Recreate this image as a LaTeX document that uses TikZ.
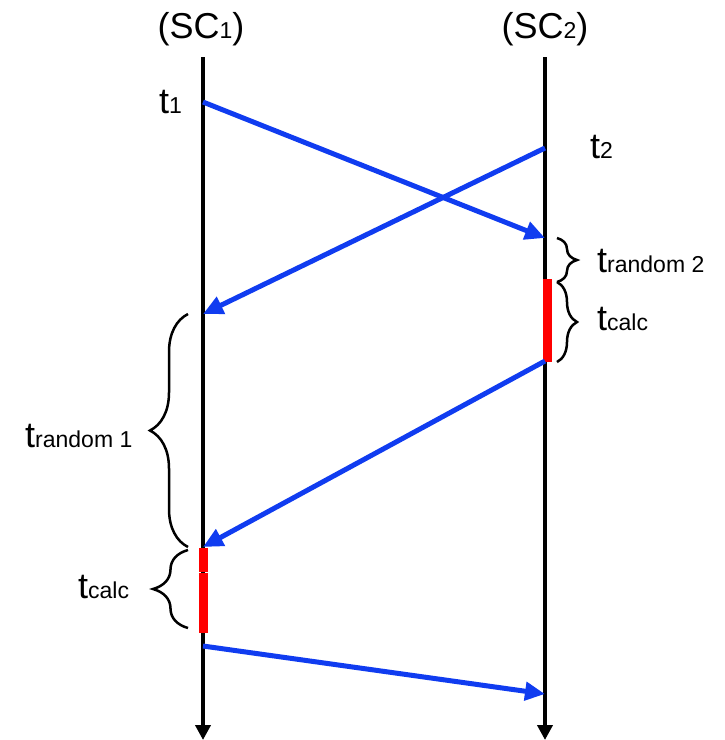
\documentclass[tikz,border=0pt]{standalone}
\usepackage{fontspec}
\setmainfont{Liberation Sans}
\usepackage{xcolor}
\usepackage{tikz}
\usetikzlibrary{arrows.meta, decorations.pathreplacing}
\definecolor{msgblue}{RGB}{16,60,240}
\newcommand{\lowtext}[1]{{\fontsize{23}{23}\selectfont #1}}

\begin{document}
\begin{tikzpicture}[
    x=1pt, y=-1pt,
    big/.style={font=\fontsize{36}{40}\selectfont, inner sep=0pt},
    lifeline/.style={line width=4pt, -{Triangle[length=15pt, width=15pt]}},
    msg/.style={line width=5pt, msgblue, -{Triangle[length=20pt, width=18pt]}},
    busy/.style={line width=9pt, red},
    span/.style={line width=2.5pt, decorate, decoration={brace, amplitude=#1}}
]
    \useasboundingbox (0,0) rectangle (724,740);

    % Stations
    \node[big, anchor=base] (sc1) at (201,38) {(SC\lowtext{1})};
    \node[big, anchor=base] (sc2) at (545,38) {(SC\lowtext{2})};

    % Lifelines
    \coordinate (sc1top) at (203,57);
    \coordinate (sc1end) at (203,740);
    \coordinate (sc2top) at (545,57);
    \coordinate (sc2end) at (545,740);
    \draw[lifeline] (sc1top) -- (sc1end);
    \draw[lifeline] (sc2top) -- (sc2end);

    % Calculation phases
    \coordinate (calc2a) at (547.5,279);
    \coordinate (calc2b) at (547.5,362);
    \coordinate (calc1a) at (203,548);
    \coordinate (calc1b) at (203,571.5);
    \coordinate (calc1c) at (203,572.5);
    \coordinate (calc1d) at (203,633);
    \draw[busy] (calc2a) -- (calc2b);
    \draw[busy] (calc1a) -- (calc1b);
    \draw[busy] (calc1c) -- (calc1d);

    % Messages
    \coordinate (send1) at (203,102);
    \coordinate (recv1) at (545,238);
    \coordinate (send2) at (545,148);
    \coordinate (recv2) at (203,314);
    \coordinate (send3) at (545,361);
    \coordinate (recv3) at (203,547);
    \coordinate (send4) at (203,646);
    \coordinate (recv4) at (545,694);
    \draw[msg] (send1) -- (recv1);
    \draw[msg] (send2) -- (recv2);
    \draw[msg] (send3) -- (recv3);
    \draw[msg] (send4) -- (recv4);

    % Start times
    \node[big, anchor=base west] (tone) at (159,113) {t\lowtext{1}};
    \node[big, anchor=base west] (ttwo) at (590,158) {t\lowtext{2}};

    % Intervals
    \draw[span=20pt] (557,238) -- (557,282);
    \draw[span=20pt] (557,282) -- (557,362);
    \draw[span=38pt] (188,547) -- (188,314);
    \draw[span=35pt] (188,628) -- (188,550);

    \node[big, anchor=base west] (rnd2) at (597,272) {t\lowtext{random 2}};
    \node[big, anchor=base west] (calc2) at (597,330) {t\lowtext{calc}};
    \node[big, anchor=base west] (rnd1) at (25,447) {t\lowtext{random 1}};
    \node[big, anchor=base west] (calc1) at (78,598) {t\lowtext{calc}};
\end{tikzpicture}
\end{document}
